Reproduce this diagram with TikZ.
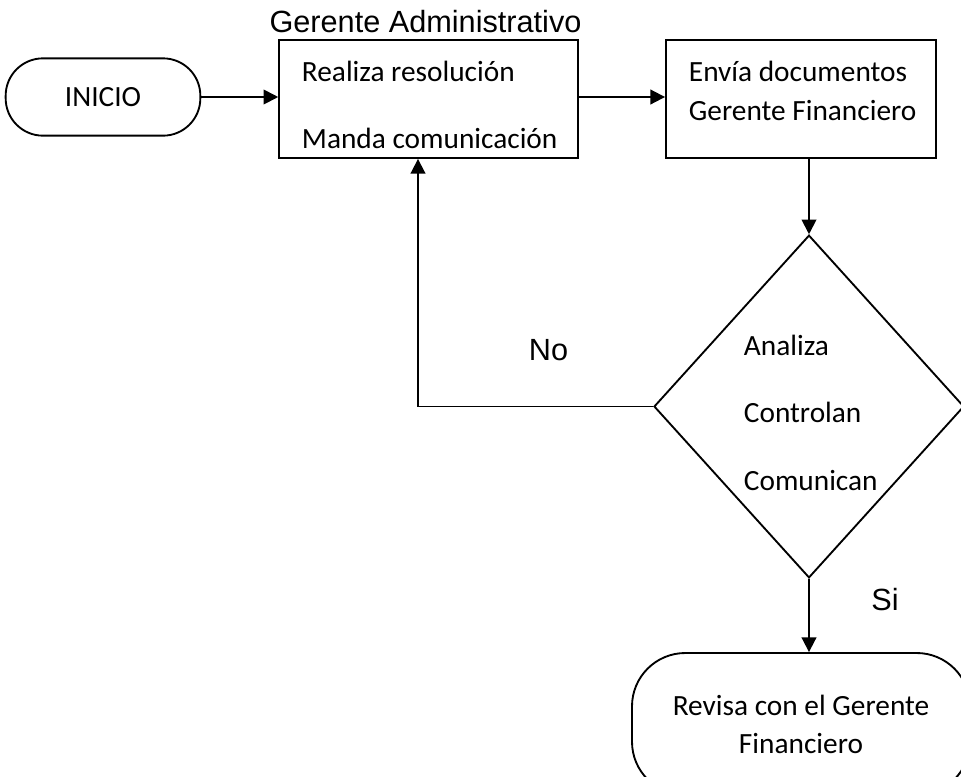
\documentclass[tikz,border=0pt]{standalone}
\usepackage{fontspec}
\setmainfont{Carlito}
\newfontfamily\arialf{Liberation Sans}
\usetikzlibrary{shapes.geometric,arrows.meta}
\begin{document}
\begin{tikzpicture}[x=0.75pt,y=-0.75pt,
  line width=1.4pt,
  every node/.style={font=\fontsize{22}{26}\selectfont, inner sep=0pt},
  procbox/.style={draw, rectangle, minimum width=224pt, minimum height=88.5pt},
  termbox/.style={draw, rectangle, rounded corners=#1},
  decis/.style={draw, diamond, minimum width=232.5pt, minimum height=257pt},
  conn/.style={-{Triangle[length=11pt,width=11pt]}},
  txt/.style={anchor=base west, align=left},
  lbl/.style={font=\arialf\fontsize{23}{28}\selectfont}
]
\useasboundingbox (0,0) rectangle (961,776);
% nodes
\node[termbox=28pt, minimum width=146pt, minimum height=58pt] (inicio) at (103,97) {INICIO};
\node[procbox] (b1) at (428.5,99) {};
\node[txt, font=\fontsize{22}{50}\selectfont] (b1t) at (301,148) {Realiza resolución\\Manda comunicación};
\node[lbl, anchor=base] (ga) at (425.5,32) {Gerente Administrativo};
\node[procbox, minimum width=202.5pt] (b2) at (801,99) {};
\node[txt, font=\fontsize{22}{29}\selectfont] (b2t) at (688,120) {Envía documentos\\Gerente Financiero};
\node[decis] (d) at (809,406.5) {};
\node[txt, font=\fontsize{22}{50.5}\selectfont] (dt) at (743,490) {Analiza\\Controlan\\Comunican};
\node[termbox=40pt, minimum width=253.5pt, minimum height=106.5pt, align=center, font=\fontsize{22}{28.5}\selectfont] (fin) at (801,724) {Revisa con el Gerente\\Financiero};
\node[lbl, anchor=base west] (no) at (528,360) {No};
\node[lbl] (si) at (885,600) {Si};
\coordinate (corner) at (418,406.5);
% connectors
\draw[conn] (inicio.east) -- (inicio.east -| b1.west);
\draw[conn] (b1.east |- inicio.east) -- (b2.west |- inicio.east);
\draw[conn] (b2.south -| d.north) -- (d.north);
\draw[conn] (d.west) -- (corner) -- (corner |- b1.south);
\draw[conn] (d.south) -- (fin.north -| d.south);
\end{tikzpicture}
\end{document}
